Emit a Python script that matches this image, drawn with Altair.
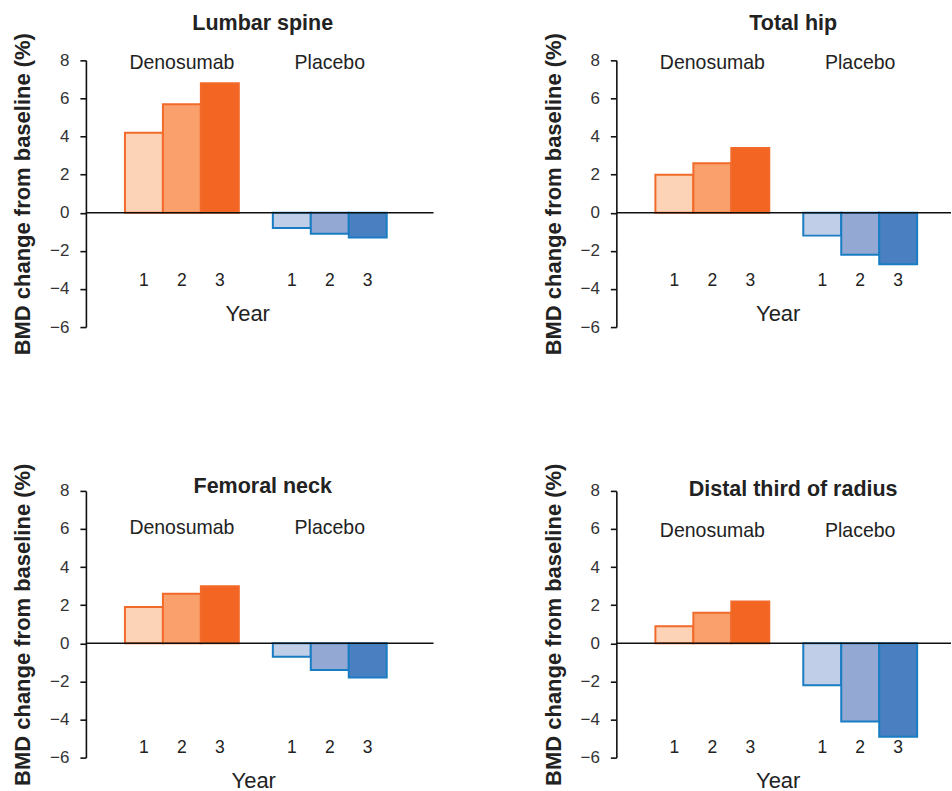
import altair as alt
import pandas as pd

# ---- data ----
sites = ["Lumbar spine", "Total hip", "Femoral neck", "Distal third of radius"]
groups = ["Denosumab", "Placebo"]
years = ["1", "2", "3"]

lumbar_denosumab = [4.2, 5.7, 6.8]
lumbar_placebo = [-0.8, -1.1, -1.3]
hip_denosumab = [2.0, 2.6, 3.4]
hip_placebo = [-1.2, -2.2, -2.7]
femoral_denosumab = [1.9, 2.6, 3.0]
femoral_placebo = [-0.7, -1.4, -1.8]
radius_denosumab = [0.9, 1.6, 2.2]
radius_placebo = [-2.2, -4.1, -4.9]

y_ticks = [-6, -4, -2, 0, 2, 4, 6, 8]

FONT = "Liberation Sans"
fill_keys = [g + y for g in groups for y in years]
fill_colors = ["#FCD3B7", "#F9A06D", "#F26522", "#C0CEE7", "#93A9D3", "#4A7FC1"]
stroke_colors = ["#F26A2A", "#1A7DC4"]


def panel(site, dvals, pvals, w, title_y, label_y, num_y, year_y, year_x):
    rows = []
    for g, vals in zip(groups, [dvals, pvals]):
        for yr, v in zip(years, vals):
            rows.append({"group": g, "year": yr, "key": g + yr, "value": v})
    df = pd.DataFrame(rows)
    base = alt.Chart(df)
    x = alt.X("group:N", axis=None,
              scale=alt.Scale(domain=groups, range=[0, 347], paddingInner=0.23,
                              paddingOuter=0.287, align=0.46))
    xo = alt.XOffset("year:N", scale=alt.Scale(domain=years, paddingInner=0, paddingOuter=0))
    yscale = alt.Scale(domain=[-6, 8], nice=False, zero=False)
    yaxis = alt.Axis(values=y_ticks, title="BMD change from baseline (%)",
                     labelOverlap=False, labelFlush=False,
                     labelFont=FONT, labelFontSize=17, labelColor="#333", labelPadding=11,
                     titleFont=FONT, titleFontSize=22, titleFontWeight="bold",
                     titleColor="#222", titlePadding=15)
    bars = base.mark_bar(strokeWidth=2).encode(
        x=x, xOffset=xo,
        y=alt.Y("value:Q", scale=yscale, axis=yaxis),
        fill=alt.Fill("key:N", scale=alt.Scale(domain=fill_keys, range=fill_colors), legend=None),
        stroke=alt.Stroke("group:N", scale=alt.Scale(domain=groups, range=stroke_colors), legend=None),
    )
    zero = alt.Chart(pd.DataFrame({"value": [0]})).mark_rule(color="#111", strokeWidth=1.6).encode(
        y=alt.Y("value:Q", scale=yscale, axis=yaxis))
    glabels = alt.Chart(pd.DataFrame({"group": groups})).mark_text(
        font=FONT, fontSize=19.5, color="#222", baseline="alphabetic").encode(
        x=x, y=alt.value(label_y), text="group:N")
    nums = base.mark_text(font=FONT, fontSize=17.5, color="#222", baseline="alphabetic").encode(
        x=x, xOffset=xo, y=alt.value(num_y), text="year:N")
    tdf = pd.DataFrame({"t": ["Year"], "s": [site]})
    year_t = alt.Chart(tdf).mark_text(font=FONT, fontSize=22, color="#222", baseline="alphabetic").encode(
        x=alt.value(year_x), y=alt.value(year_y), text="t:N")
    title_t = alt.Chart(tdf).mark_text(font=FONT, fontSize=21.5, fontWeight="bold", color="#222",
                                       baseline="alphabetic").encode(
        x=alt.value(177), y=alt.value(title_y), text="s:N")
    return alt.layer(bars, zero, glabels, nums, year_t, title_t).properties(width=w, height=267)


p1 = panel(sites[0], lumbar_denosumab, lumbar_placebo, 348, -30, 9, 226, 261, 162)
p2 = panel(sites[1], hip_denosumab, hip_placebo, 335, -30, 9, 226, 261, 162)
p3 = panel(sites[2], femoral_denosumab, femoral_placebo, 348, 2, 43, 262, 297, 168)
p4 = panel(sites[3], radius_denosumab, radius_placebo, 335, 5, 46, 262, 297, 162)

chart = alt.vconcat(
    alt.hconcat(p1, p2, spacing=107),
    alt.hconcat(p3, p4, spacing=107),
    spacing=108,
).configure_view(stroke=None).configure_axis(
    domainColor="#111", domainWidth=1.6, tickColor="#111", tickWidth=1.6, tickSize=6,
    grid=False,
).properties(padding={"left": 11, "top": 13, "right": 0, "bottom": 0})

chart.save("out.html", embed_options={"renderer": "svg", "actions": False})
